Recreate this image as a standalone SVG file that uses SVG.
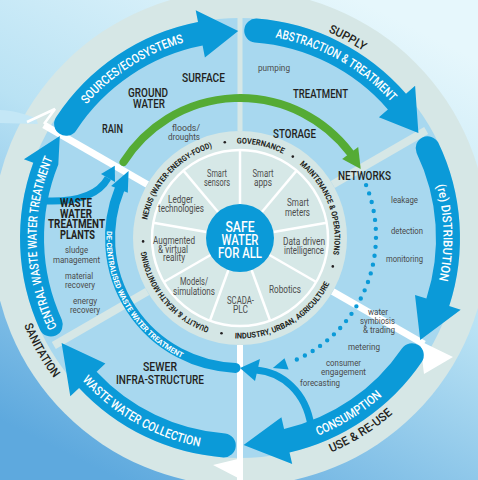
<svg xmlns="http://www.w3.org/2000/svg" width="478" height="480" viewBox="0 0 478 480">
<defs>
<linearGradient id="bg" x1="0.75" y1="0" x2="0.25" y2="1">
<stop offset="0" stop-color="#e6f7fc"/>
<stop offset="0.45" stop-color="#b9e2f4"/>
<stop offset="1" stop-color="#5ea9de"/>
</linearGradient>
<style>
.t{font-family:Roboto,'Liberation Sans',sans-serif}
.hd{font-size:12.5px;fill:#231f20;font-weight:500;text-anchor:middle}
.wp{font-size:12.5px;fill:#231f20;font-weight:700;text-anchor:middle}
.sm{font-size:9.5px;fill:#4a4a4a;text-anchor:middle}
.seg{font-size:10px;fill:#4d4d4d;text-anchor:middle}
.arr{font-size:12.5px;fill:#fff;font-weight:500;text-anchor:middle}
.rim{font-size:12px;fill:#231f20;font-weight:500;text-anchor:middle}
.band{font-size:8px;fill:#231f20;font-weight:700;text-anchor:middle}
.dec{font-size:7.5px;fill:#fff;font-weight:700;text-anchor:middle}
.safe{font-size:15px;fill:#fff;font-weight:500;text-anchor:middle}
.big{fill:#0b9ad8}
.sep{stroke-width:8;stroke-linecap:butt}
.div{stroke:#fff;stroke-width:2.5}
</style>
<path id="pSrc" d="M86.4,104.5 A203.5,203.5 0 0 1 183.9,42.4"/>
<path id="pAbs" d="M275.3,37.6 A203.5,203.5 0 0 1 391.2,101.8"/>
<path id="pDis" d="M436.6,185.3 A203.5,203.5 0 0 1 439.0,280.3"/>
<path id="pCon" d="M317.9,435.7 A212.5,212.5 0 0 0 382.2,395.9"/>
<path id="pCol" d="M82.1,380.2 A212.5,212.5 0 0 0 199.5,446.6"/>
<path id="pCen" d="M57.1,327.2 A203.5,203.5 0 0 1 52.7,158.5"/>
<path id="pSup" d="M328.2,32.1 A224,224 0 0 1 363.3,51.0"/>
<path id="pUse" d="M331.0,452.5 A233,233 0 0 0 392.9,413.8"/>
<path id="pSan" d="M24.0,325.3 A233,233 0 0 0 53.9,378.2"/>
<path id="pGov" d="M236.7,143.6 A94.5,94.5 0 0 1 282.9,153.8"/>
<path id="pMai" d="M299.5,164.6 A94.5,94.5 0 0 1 333.1,254.4"/>
<path id="pInd" d="M234.7,338.4 A100.5,100.5 0 0 0 329.5,283.6"/>
<path id="pQua" d="M209.2,327.4 A94.5,94.5 0 0 1 146.4,251.2"/>
<path id="pNex" d="M147.2,220.0 A94.5,94.5 0 0 1 212.4,147.6"/>
<path id="pDec" d="M106.7,231.0 A133.5,133.5 0 0 0 181.5,358.0"/>
</defs>

<rect width="478" height="480" fill="url(#bg)"/>
<circle id="ring" cx="240" cy="238" r="248" fill="#d6e7e6"/>
<circle id="sectors" cx="240" cy="238" r="220" fill="#a8d8ef"/>

<g id="separators">
<line class="sep" x1="240" y1="131" x2="240" y2="0" stroke="#d6e7e6" style="stroke-width:5"/>
<line class="sep" x1="332.7" y1="184.5" x2="426.2" y2="130.5" stroke="#d6e7e6"/>
<line class="sep" x1="147.3" y1="291.5" x2="53.8" y2="345.5" stroke="#d6e7e6"/>
<line class="sep" x1="147.3" y1="184.5" x2="44" y2="125" stroke="#fff" style="stroke-width:7"/>
<line class="sep" x1="332.7" y1="291.5" x2="424" y2="344" stroke="#fff" style="stroke-width:7"/>
<polygon points="420,341 453,357 424,374" fill="#fff"/>
<line class="sep" x1="240" y1="345" x2="240" y2="480" stroke="#fff" style="stroke-width:6"/>
<polygon points="242,458 213,465 242,480" fill="#fff"/>
</g>

<g id="inflow">
<path d="M0,110 C12,110 24,114 36,118 L38,124 C24,124 12,123 0,123 Z" fill="#c4e7f6"/>
<polyline points="27,122 55,109 44,124" fill="none" stroke="#fff" stroke-width="2.5"/>
</g>

<g id="core">
<circle cx="240" cy="238" r="107" fill="#d4e6e5"/>
<circle cx="240" cy="238" r="88" fill="#d6e8e7" stroke="#fff" stroke-width="2.5"/>
<line class="div" x1="240" y1="204" x2="240" y2="150"/>
<line class="div" x1="261.9" y1="212.0" x2="296.6" y2="170.6"/>
<line class="div" x1="273.5" y1="232.1" x2="326.7" y2="222.7"/>
<line class="div" x1="269.4" y1="255.0" x2="316.2" y2="282.0"/>
<line class="div" x1="251.6" y1="270.0" x2="270.1" y2="320.7"/>
<line class="div" x1="228.4" y1="270.0" x2="209.9" y2="320.7"/>
<line class="div" x1="210.6" y1="255.0" x2="163.8" y2="282.0"/>
<line class="div" x1="206.5" y1="232.1" x2="153.3" y2="222.7"/>
<line class="div" x1="218.1" y1="212.0" x2="183.4" y2="170.6"/>
</g>
<g id="safe">
<circle cx="240" cy="238" r="34" fill="#0b9ad8"/>
<text class="t safe"><tspan x="240" y="232" textLength="29" lengthAdjust="spacingAndGlyphs">SAFE</tspan><tspan x="240" y="245" textLength="37" lengthAdjust="spacingAndGlyphs">WATER</tspan><tspan x="240" y="258" textLength="44" lengthAdjust="spacingAndGlyphs">FOR ALL</tspan></text>
</g>

<g id="tech" class="t">
<text class="seg"><tspan x="217" y="177" textLength="20" lengthAdjust="spacingAndGlyphs">Smart</tspan><tspan x="217" y="186" textLength="26" lengthAdjust="spacingAndGlyphs">sensors</tspan></text>
<text class="seg"><tspan x="263" y="177" textLength="21" lengthAdjust="spacingAndGlyphs">Smart</tspan><tspan x="263" y="186" textLength="18" lengthAdjust="spacingAndGlyphs">apps</tspan></text>
<text class="seg"><tspan x="298" y="206" textLength="22" lengthAdjust="spacingAndGlyphs">Smart</tspan><tspan x="297.5" y="216" textLength="25" lengthAdjust="spacingAndGlyphs">meters</tspan></text>
<text class="seg"><tspan x="304" y="245" textLength="42" lengthAdjust="spacingAndGlyphs">Data driven</tspan><tspan x="304" y="254" textLength="40" lengthAdjust="spacingAndGlyphs">intelligence</tspan></text>
<text class="seg" x="285" y="293" textLength="32" lengthAdjust="spacingAndGlyphs">Robotics</text>
<text class="seg"><tspan x="240.5" y="304" textLength="27" lengthAdjust="spacingAndGlyphs">SCADA-</tspan><tspan x="240.5" y="313" textLength="15" lengthAdjust="spacingAndGlyphs">PLC</tspan></text>
<text class="seg"><tspan x="194" y="285" textLength="28" lengthAdjust="spacingAndGlyphs">Models/</tspan><tspan x="194" y="294.5" textLength="42" lengthAdjust="spacingAndGlyphs">simulations</tspan></text>
<text class="seg"><tspan x="174" y="244" textLength="42" lengthAdjust="spacingAndGlyphs">Augmented</tspan><tspan x="173" y="252.5" textLength="30" lengthAdjust="spacingAndGlyphs">&amp; virtual</tspan><tspan x="174" y="261" textLength="22" lengthAdjust="spacingAndGlyphs">reality</tspan></text>
<text class="seg"><tspan x="180.5" y="203" textLength="25" lengthAdjust="spacingAndGlyphs">Ledger</tspan><tspan x="181" y="212" textLength="46" lengthAdjust="spacingAndGlyphs">technologies</tspan></text>
</g>

<g id="themes" class="t">
<text class="band"><textPath href="#pGov" startOffset="50%" textLength="47.8" lengthAdjust="spacingAndGlyphs">GOVERNANCE</textPath></text>
<text class="band"><textPath href="#pMai" startOffset="50%" textLength="100.6" lengthAdjust="spacingAndGlyphs">MAINTENANCE &amp; OPERATIONS</textPath></text>
<text class="band"><textPath href="#pInd" startOffset="50%" textLength="115.8" lengthAdjust="spacingAndGlyphs">INDUSTRY, URBAN, AGRICULTURE</textPath></text>
<text class="band"><textPath href="#pQua" startOffset="50%" textLength="103.9" lengthAdjust="spacingAndGlyphs">QUALITY &amp; HEALTH MONITORING</textPath></text>
<text class="band"><textPath href="#pNex" startOffset="50%" textLength="102.3" lengthAdjust="spacingAndGlyphs">NEXUS (WATER-ENERGY-FOOD)</textPath></text>
<g fill="#231f20">
<circle cx="224.8" cy="142.2" r="1.3"/>
<circle cx="292.8" cy="156.6" r="1.3"/>
<circle cx="332.8" cy="266.4" r="1.3"/>
<circle cx="221.5" cy="333.2" r="1.3"/>
<circle cx="143.1" cy="241.4" r="1.3"/>
</g>
</g>

<g id="connectors">
<path d="M123.5,162.1 A138,138 0 0 1 350.2,152.9" fill="none" stroke="#55ab35" stroke-width="8" stroke-linecap="round"/>
<polygon points="342.2,159.0 358.2,146.9 360.7,169.1" fill="#55ab35"/>
<path d="M366.1,185.1 A136,136 0 0 1 290.9,362.1" fill="none" stroke="#0b9ad8" stroke-width="4.4" stroke-linecap="round" stroke-dasharray="0 9"/>
<polygon points="284.5,358.2 288.6,369.4 272.9,368.0" fill="#0b9ad8"/>
<path d="M235.5,367.9 A130,130 0 0 1 119.5,189.3" fill="none" stroke="#0b9ad8" stroke-width="10" stroke-linecap="round"/>
<polygon points="127.8,192.7 111.1,185.9 128.6,171.0" fill="#0b9ad8"/>
<path d="M46,201 C75,202 98,196 108,178" fill="none" stroke="#0b9ad8" stroke-width="7"/>
<polygon points="114.8,165.8 115.0,181.9 101.0,174.1" fill="#0b9ad8"/>
<path d="M311,426 C306,392 282,372 256,370" fill="none" stroke="#0b9ad8" stroke-width="7"/>
<polygon points="240,368 260,359 255,381" fill="#0b9ad8"/>
</g>

<g id="arrows">
<path id="aSrc" class="big" d="M56.1,117.2 A220,220 0 0 1 198.0,22.0 L195.7,10.3 L238.2,31.0 L204.9,57.4 L202.6,45.6 A196,196 0 0 0 76.2,130.4 A12,12 0 0 1 56.1,117.2 Z"/>
<path id="aAbs" class="big" d="M256.5,18.6 A220,220 0 0 1 406.0,93.7 L415.1,85.8 L418.4,132.9 L378.9,117.3 L387.9,109.4 A196,196 0 0 0 254.7,42.5 A12,12 0 0 1 256.5,18.6 Z"/>
<path id="aDis" class="big" d="M438.2,142.6 A220,220 0 0 1 449.2,306.0 L460.7,309.7 L420.2,339.9 L415.0,294.9 L426.4,298.6 A196,196 0 0 0 416.6,153.0 A12,12 0 0 1 438.2,142.6 Z"/>
<path id="aCon" class="big" d="M421.7,362.0 A220,220 0 0 1 289.5,452.4 L292.2,464.1 L243.6,445.0 L281.4,417.3 L284.1,429.0 A196,196 0 0 0 401.9,348.4 A12,12 0 0 1 421.7,362.0 Z"/>
<path id="aCol" class="big" d="M223.5,457.4 A220,220 0 0 1 79.1,388.0 L70.3,396.2 L61.6,343.1 L105.4,363.5 L96.6,371.7 A196,196 0 0 0 225.3,433.5 A12,12 0 0 1 223.5,457.4 Z"/>
<path id="aCen" class="big" d="M40.1,329.9 A220,220 0 0 1 33.3,162.8 L23.9,159.3 L59.8,136.1 L58.3,164.6 A196,196 0 0 0 61.9,319.9 A12,12 0 0 1 40.1,329.9 Z"/>
</g>

<g id="arrowLabels" class="t">
<text class="arr"><textPath href="#pSrc" startOffset="50%" textLength="117" lengthAdjust="spacingAndGlyphs">SOURCES/ECOSYSTEMS</textPath></text>
<text class="arr"><textPath href="#pAbs" startOffset="50%" textLength="135" lengthAdjust="spacingAndGlyphs">ABSTRACTION &amp; TREATMENT</textPath></text>
<text class="arr"><textPath href="#pDis" startOffset="50%" textLength="95.9" lengthAdjust="spacingAndGlyphs">(re) DISTRIBUTION</textPath></text>
<text class="arr"><textPath href="#pCon" startOffset="50%" textLength="76" lengthAdjust="spacingAndGlyphs">CONSUMPTION</textPath></text>
<text class="arr"><textPath href="#pCol" startOffset="50%" textLength="137.2" lengthAdjust="spacingAndGlyphs">WASTE WATER COLLECTION</textPath></text>
<text class="arr"><textPath href="#pCen" startOffset="50%" textLength="174" lengthAdjust="spacingAndGlyphs">CENTRAL WASTE WATER TREATMENT</textPath></text>
<text class="dec"><textPath href="#pDec" startOffset="50%" textLength="156" lengthAdjust="spacingAndGlyphs">DE-CENTRALISED WASTE WATER TREATMENT</textPath></text>
<text class="rim"><textPath href="#pSup" startOffset="50%" textLength="40" lengthAdjust="spacingAndGlyphs">SUPPLY</textPath></text>
<text class="rim"><textPath href="#pUse" startOffset="50%" textLength="73" lengthAdjust="spacingAndGlyphs">USE &amp; RE-USE</textPath></text>
<text class="rim"><textPath href="#pSan" startOffset="50%" textLength="61" lengthAdjust="spacingAndGlyphs">SANITATION</textPath></text>
</g>

<g id="stages" class="t">
<text class="hd" x="203.5" y="82" textLength="43" lengthAdjust="spacingAndGlyphs">SURFACE</text>
<text class="hd"><tspan x="148" y="97" textLength="40" lengthAdjust="spacingAndGlyphs">GROUND</tspan><tspan x="149" y="108" textLength="32" lengthAdjust="spacingAndGlyphs">WATER</tspan></text>
<text class="hd" x="112.5" y="133" textLength="21" lengthAdjust="spacingAndGlyphs">RAIN</text>
<text class="hd" x="320.5" y="98" textLength="55" lengthAdjust="spacingAndGlyphs">TREATMENT</text>
<text class="hd" x="294.5" y="138" textLength="43" lengthAdjust="spacingAndGlyphs">STORAGE</text>
<text class="hd" x="364.5" y="180" textLength="53" lengthAdjust="spacingAndGlyphs">NETWORKS</text>
<text class="wp"><tspan x="76" y="207" textLength="32" lengthAdjust="spacingAndGlyphs">WASTE</tspan><tspan x="76" y="217.5" textLength="32" lengthAdjust="spacingAndGlyphs">WATER</tspan><tspan x="76.5" y="228" textLength="57" lengthAdjust="spacingAndGlyphs">TREATMENT</tspan><tspan x="77.5" y="239" textLength="35" lengthAdjust="spacingAndGlyphs">PLANTS</tspan></text>
<text class="hd"><tspan x="160" y="371" textLength="34" lengthAdjust="spacingAndGlyphs">SEWER</tspan><tspan x="160" y="384" textLength="88" lengthAdjust="spacingAndGlyphs">INFRA-STRUCTURE</tspan></text>
</g>

<g id="notes" class="t">
<text class="sm"><tspan x="186" y="131" textLength="28" lengthAdjust="spacingAndGlyphs">floods/</tspan><tspan x="184" y="140" textLength="32" lengthAdjust="spacingAndGlyphs">droughts</tspan></text>
<text class="sm" x="274" y="71" textLength="32" lengthAdjust="spacingAndGlyphs">pumping</text>
<text class="sm" x="404.5" y="203" textLength="27" lengthAdjust="spacingAndGlyphs">leakage</text>
<text class="sm" x="407" y="234" textLength="32" lengthAdjust="spacingAndGlyphs">detection</text>
<text class="sm" x="404.5" y="262" textLength="37" lengthAdjust="spacingAndGlyphs">monitoring</text>
<text class="sm"><tspan x="378" y="315" textLength="20" lengthAdjust="spacingAndGlyphs">water</tspan><tspan x="377.5" y="324" textLength="35" lengthAdjust="spacingAndGlyphs">symbiosis</tspan><tspan x="379" y="333" textLength="32" lengthAdjust="spacingAndGlyphs">&amp; trading</tspan></text>
<text class="sm" x="364" y="350" textLength="32" lengthAdjust="spacingAndGlyphs">metering</text>
<text class="sm"><tspan x="343.5" y="366" textLength="35" lengthAdjust="spacingAndGlyphs">consumer</tspan><tspan x="343.5" y="374.5" textLength="45" lengthAdjust="spacingAndGlyphs">engagement</tspan></text>
<text class="sm" x="320" y="386" textLength="40" lengthAdjust="spacingAndGlyphs">forecasting</text>
<text class="sm"><tspan x="76.5" y="253" textLength="23" lengthAdjust="spacingAndGlyphs">sludge</tspan><tspan x="76.5" y="263" textLength="47" lengthAdjust="spacingAndGlyphs">management</tspan></text>
<text class="sm"><tspan x="79" y="279" textLength="28" lengthAdjust="spacingAndGlyphs">material</tspan><tspan x="80" y="288" textLength="30" lengthAdjust="spacingAndGlyphs">recovery</tspan></text>
<text class="sm"><tspan x="85" y="304" textLength="24" lengthAdjust="spacingAndGlyphs">energy</tspan><tspan x="85" y="313" textLength="30" lengthAdjust="spacingAndGlyphs">recovery</tspan></text>
</g>
</svg>
